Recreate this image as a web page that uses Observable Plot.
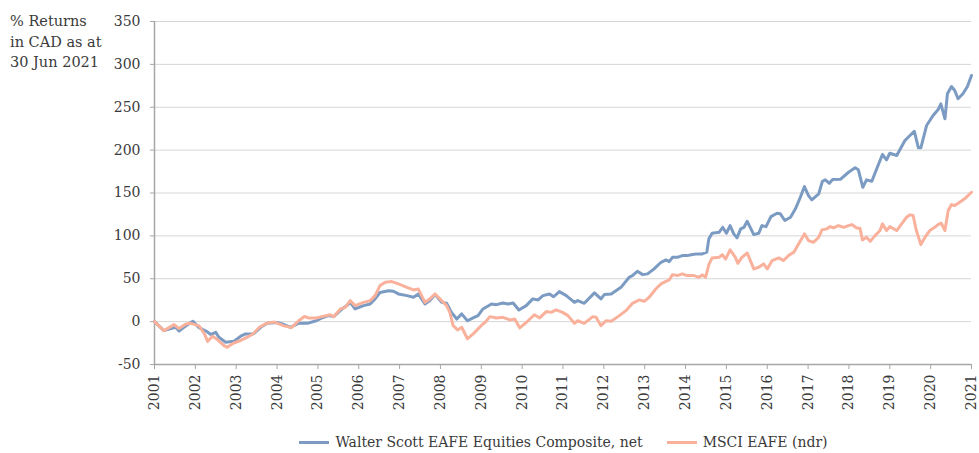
<!DOCTYPE html>
<html>
<head>
<meta charset="utf-8">
<script src="https://cdn.jsdelivr.net/npm/d3@7"></script>
<script src="https://cdn.jsdelivr.net/npm/@observablehq/plot@0.6"></script>
<style>
  html, body { margin: 0; padding: 0; background: #fff; }
  #wrap { position: relative; width: 979px; height: 453px; overflow: hidden; font-family: "DejaVu Serif", serif; color: #3a3a3a; }
  #ytitle { position: absolute; left: 10px; top: 11px; font-size: 14.5px; line-height: 20.5px; }
  #legend { display: flex; justify-content: center; align-items: center; gap: 24px; padding-left: 154px; padding-right: 6px; height: 28px; margin-top: 3px; font-size: 14px; }
  .item { display: flex; align-items: center; gap: 6px; white-space: nowrap; }
  .sw { display: inline-block; width: 30px; height: 3px; }
</style>
</head>
<body>
<div id="wrap">
  <div id="chart"></div>
  <div id="ytitle">% Returns<br>in CAD as at<br>30 Jun 2021</div>
  <div id="legend"></div>
</div>
<script>
// Tick values
const xTicks = [2001,2002,2003,2004,2005,2006,2007,2008,2009,2010,2011,2012,2013,2014,2015,2016,2017,2018,2019,2020,2021];
const yTicks = [-50,0,50,100,150,200,250,300,350];

// Series names
const seriesNames = ["Walter Scott EAFE Equities Composite, net", "MSCI EAFE (ndr)"];
const seriesColors = ["#7b9bc3", "#f9b19c"];

// Walter Scott EAFE Equities Composite, net (time offset in years from 2001, % return)
const wsTime = [0.00,0.23,0.40,0.52,0.60,0.72,0.89,0.94,1.09,1.26,1.38,1.50,1.57,1.74,1.94,2.11,2.23,2.43,2.60,2.76,3.00,3.13,3.33,3.52,3.74,3.96,4.10,4.26,4.39,4.59,4.71,4.79,4.91,5.12,5.28,5.40,5.52,5.73,5.85,5.97,6.18,6.34,6.46,6.62,6.74,6.87,7.03,7.15,7.27,7.40,7.52,7.66,7.80,7.92,8.04,8.25,8.37,8.53,8.65,8.78,8.92,9.10,9.26,9.39,9.51,9.67,9.77,9.91,10.08,10.28,10.36,10.52,10.77,10.93,11.01,11.18,11.42,11.62,11.70,11.82,11.95,12.07,12.23,12.40,12.52,12.60,12.68,12.80,12.92,13.04,13.17,13.29,13.41,13.52,13.57,13.65,13.82,13.91,14.00,14.09,14.18,14.26,14.35,14.43,14.51,14.67,14.79,14.87,14.97,15.09,15.24,15.32,15.43,15.57,15.69,15.81,15.91,16.01,16.09,16.26,16.35,16.42,16.52,16.60,16.79,16.99,17.15,17.23,17.34,17.43,17.56,17.68,17.82,17.92,18.00,18.17,18.37,18.60,18.70,18.76,18.90,19.06,19.18,19.25,19.35,19.41,19.51,19.59,19.67,19.79,19.90,20.00];
const wsReturn = [0,-10.5,-8,-6.6,-11,-6.6,-1,0.5,-7,-11,-15,-12.5,-18,-24,-23,-17,-14.4,-14,-6.6,-2,-1,-2.7,-6.6,-2,-2,1,4.3,7,5.8,14.8,18.7,22.5,14.8,18.7,20.6,26.5,34,36,35.4,32.3,30.3,28.4,32.3,20.6,24.5,31.5,22.5,21.4,10.8,3,9,1,4.3,7,14.8,20.6,19.8,21.8,20.6,21.8,13.6,18.7,26.5,25.3,30.3,32.3,29,35,30.3,22.5,24.5,21.4,33.5,26.5,31.5,32.3,40,51.7,53.7,58.7,54.8,55.7,61.5,69.2,72,70,75,75,77,77,78.2,79,79,81,96.5,103,104.2,110,103,112,102.3,97.7,108.2,110,117,101.5,103,112,110.8,122.5,126.4,125.7,117.9,121.7,131.5,145,157.5,147,142,149,163.7,165.3,161.4,165.7,166,174.2,179.4,177,156.7,165.3,163.7,178.2,194.9,188.7,196.4,193.7,211.2,222,202.7,202.7,228.7,240.4,247,254,236.5,265.7,274.2,269.5,259.9,265.7,274.2,287];

// MSCI EAFE (ndr)
const msciTime = [0.00,0.23,0.48,0.60,0.77,0.89,1.09,1.22,1.30,1.42,1.54,1.70,1.78,1.94,2.11,2.27,2.41,2.57,2.74,2.94,3.15,3.35,3.53,3.67,3.77,3.96,4.10,4.30,4.39,4.55,4.67,4.79,4.91,5.12,5.28,5.40,5.52,5.65,5.81,5.97,6.18,6.34,6.46,6.62,6.74,6.87,7.03,7.15,7.23,7.31,7.42,7.52,7.66,7.80,7.92,8.04,8.09,8.21,8.37,8.53,8.70,8.82,8.94,9.10,9.30,9.43,9.59,9.71,9.83,9.99,10.12,10.28,10.36,10.52,10.73,10.81,10.93,11.05,11.18,11.38,11.54,11.70,11.87,11.99,12.11,12.27,12.40,12.52,12.60,12.68,12.80,12.92,13.04,13.21,13.33,13.41,13.49,13.57,13.65,13.82,13.90,13.98,14.09,14.22,14.28,14.38,14.51,14.67,14.79,14.91,15.00,15.12,15.28,15.40,15.52,15.65,15.77,15.91,16.01,16.13,16.26,16.34,16.46,16.54,16.62,16.74,16.87,16.99,17.07,17.19,17.27,17.33,17.43,17.52,17.64,17.76,17.82,17.92,18.00,18.17,18.29,18.41,18.49,18.57,18.65,18.76,18.86,18.98,19.10,19.18,19.26,19.35,19.43,19.51,19.59,19.71,19.83,20.00];
const msciReturn = [0,-10.5,-3.5,-8,-2.7,-2,-5,-14,-23,-17,-21,-28,-30,-25,-22,-18,-14.4,-6.6,-2,-0.5,-4.7,-7,1,6,4.3,4.3,5.8,8,5.8,14.8,16.7,24.5,18.7,22.5,24.5,30.3,42,45.9,46.7,44,40,37,38,22.5,26.5,32.3,24.5,18.7,10.8,-4.7,-9.7,-6.6,-20,-14.4,-8.5,-2.7,-1,5.8,4.3,5,2,3,-7.3,-1,8,4.3,11.7,10.8,13.6,10.8,7,-2,1,-2,5.8,5,-4.7,1,0.4,7,12.8,21.4,25.3,23.7,28.4,38,44,47,48.6,54.8,53.7,55.7,53.7,53.7,51.7,54.5,51.7,66.5,74.3,75,78,73,83.6,75,68,75,80,61.5,63.4,67.3,61.5,71.2,74.3,71.2,77,80.9,90.7,102.3,94.5,92.5,98.4,107,108.2,110.8,109.3,112,110,112,113.2,109.3,108.9,95.3,98.4,93.7,100.3,106.2,114,106.2,110.8,106.2,114,121.7,124.5,123.7,106.2,89.8,98.4,106.2,110,113.2,114.7,106.2,129.5,136.5,135.4,139.2,143.2,150.9];

const ws = wsTime.map((t, i) => ({year: 2001 + t, value: wsReturn[i]}));
const msci = msciTime.map((t, i) => ({year: 2001 + t, value: msciReturn[i]}));

const axisColor = "#a6a6a6";
const chart = Plot.plot({
  width: 979,
  height: 425,
  marginLeft: 154,
  marginRight: 8,
  marginTop: 21,
  marginBottom: 61,
  style: {fontFamily: "DejaVu Serif, serif", fontSize: "14px", color: "#3a3a3a", background: "#fff"},
  x: {domain: [2001, 2021], label: null},
  y: {domain: [-50, 350], label: null},
  marks: [
    Plot.gridY(yTicks, {stroke: "#d6d6d6", strokeOpacity: 1, strokeWidth: 1}),
    Plot.ruleX([2001], {stroke: axisColor, strokeWidth: 1.5}),
    Plot.ruleY([-50], {stroke: axisColor, strokeWidth: 1.5}),
    Plot.axisY(yTicks, {tickFormat: d => String(d), tickSize: 4, tickPadding: 10, stroke: axisColor, fill: "#3a3a3a", label: null}),
    Plot.axisX(xTicks, {tickFormat: d => String(d), tickRotate: -90, tickSize: 5, tickPadding: 5, stroke: axisColor, fill: "#3a3a3a", label: null}),
    Plot.line(ws, {x: "year", y: "value", stroke: seriesColors[0], strokeWidth: 3, strokeLinejoin: "round"}),
    Plot.line(msci, {x: "year", y: "value", stroke: seriesColors[1], strokeWidth: 3, strokeLinejoin: "round"})
  ]
});
document.getElementById("chart").appendChild(chart);

const legend = document.getElementById("legend");
seriesNames.forEach((name, i) => {
  const item = document.createElement("div");
  item.className = "item";
  const sw = document.createElement("span");
  sw.className = "sw";
  sw.style.background = seriesColors[i];
  const label = document.createElement("span");
  label.textContent = name;
  item.appendChild(sw);
  item.appendChild(label);
  legend.appendChild(item);
});
</script>
</body>
</html>
